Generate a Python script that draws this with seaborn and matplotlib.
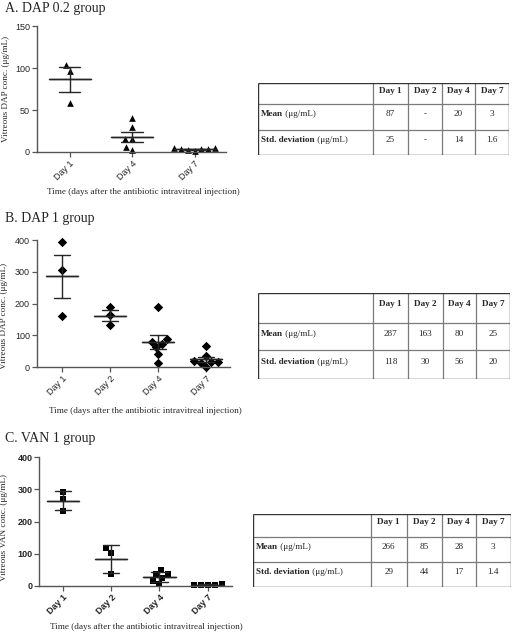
import numpy as np
import pandas as pd
import matplotlib
matplotlib.use("Agg")
import matplotlib.pyplot as plt
import seaborn as sns

sns.set_style("ticks")
plt.rcParams['font.family'] = ['Liberation Sans', 'DejaVu Sans']

# ---------------- data ----------------
x_label = "Time (days after the antibiotic intravitreal injection)"

a_title = "A. DAP 0.2 group"
a_ylabel = "Vitreous DAP conc. (μg/mL)"
a_days = ["Day 1", "Day 4", "Day 7"]
a_day1 = [104, 97, 58]
a_day4 = [41, 30, 16, 15, 6, 2]
a_day7 = [5, 4, 2, 1, 3, 3, 5]
a_yticks = [0, 50, 100, 150]

b_title = "B. DAP 1 group"
b_ylabel = "Vitreous DAP conc. (μg/mL)"
b_days = ["Day 1", "Day 2", "Day 4", "Day 7"]
b_day1 = [393, 306, 160]
b_day2 = [191, 164, 132]
b_day4 = [191, 89, 73, 81, 63, 43, 12]
b_day7 = [67, 36, 19, 15, 18, 17, 2]
b_yticks = [0, 100, 200, 300, 400]

c_title = "C. VAN 1 group"
c_ylabel = "Vitreous VAN conc. (μg/mL)"
c_days = ["Day 1", "Day 2", "Day 4", "Day 7"]
c_day1 = [291, 270, 233]
c_day2 = [116, 101, 35]
c_day4 = [50, 36, 35, 25, 14, 6]
c_day7 = [5, 3, 2, 1.5, 3.5]
c_yticks = [0, 100, 200, 300, 400]

table_cols = ["Day 1", "Day 2", "Day 4", "Day 7"]
table_rows = ["Mean", "Std. deviation"]
table_unit = "(μg/mL)"
a_mean = ["87", "-", "20", "3"]
a_sd = ["25", "-", "14", "1.6"]
b_mean = ["287", "163", "80", "25"]
b_sd = ["118", "30", "56", "20"]
c_mean = ["266", "85", "28", "3"]
c_sd = ["29", "44", "17", "1.4"]

W, H = 512, 632
fig = plt.figure(figsize=(W / 100, H / 100), dpi=100)
SERIF = ['Liberation Serif', 'DejaVu Serif']
LINE = '#262626'


def make_df(days, groups):
    rows = []
    for d, vals in zip(days, groups):
        for v in vals:
            rows.append({"day": d, "conc": v})
    return pd.DataFrame(rows)


def panel(rect_px, df, order, marker, err, xlim, ylim, yticks, bold,
          xlab_xy, ylab_xy, title, title_top, ylabel):
    x0, y0, x1, y1 = rect_px
    ax = fig.add_axes([x0 / W, 1 - y1 / H, (x1 - x0) / W, (y1 - y0) / H])
    sns.swarmplot(data=df, x="day", y="conc", order=order, marker=marker,
                  color="black", size=4.8, ax=ax, clip_on=False, zorder=2,
                  linewidth=0)
    # mean line (zero-length interval with wide caps)
    sns.pointplot(data=df, x="day", y="conc", order=order, estimator="mean",
                  errorbar=lambda v: (np.mean(v), np.mean(v)), capsize=0.67,
                  linestyle="none", marker="", color=LINE,
                  err_kws={"linewidth": 1.0}, ax=ax, zorder=3)
    # error bars
    sns.pointplot(data=df, x="day", y="conc", order=order, estimator="mean",
                  errorbar=err, capsize=0.34,
                  linestyle="none", marker="", color=LINE,
                  err_kws={"linewidth": 1.0}, ax=ax, zorder=3)
    ax.set_xlim(*xlim)
    ax.set_ylim(*ylim)
    ax.set_yticks(yticks)
    sns.despine(ax=ax)
    for s in ("left", "bottom"):
        ax.spines[s].set_color('#555555')
        ax.spines[s].set_linewidth(1.0)
    ax.tick_params(axis='both', length=3.5, width=0.9, color='#555555',
                   labelsize=6.5, pad=1.5)
    fw = 'bold' if bold else 'normal'
    ax.set_yticklabels([str(t) for t in yticks], fontweight=fw)
    ax.set_xticks(range(len(order)))
    ax.set_xticklabels(order, rotation=45, ha='right', rotation_mode='anchor',
                       fontweight=fw)
    ax.set_xlabel(x_label, family=SERIF, fontsize=6.6, va='center', ha='center')
    ax.xaxis.set_label_coords(*xlab_xy)
    ax.set_ylabel(ylabel, family=SERIF, fontsize=6.6, va='center', ha='center')
    ax.yaxis.set_label_coords(*ylab_xy)
    fig.text(5 / W, 1 - title_top / H, title, family=SERIF, fontsize=10,
             va='top', ha='left')
    return ax


def table(rect_px, row_fr, mean, sd):
    x0, y0, x1, y1 = rect_px
    ax = fig.add_axes([x0 / W, 1 - y1 / H, (x1 - x0) / W, (y1 - y0) / H])
    ax.set_xlim(0, 1)
    ax.set_ylim(1, 0)
    ax.axis('off')
    cols = [0, 0.457, 0.597, 0.733, 0.865, 1]
    ax.vlines(cols[1:-1], 0, 1, color='#7a7a7a', lw=0.9)
    ax.hlines(row_fr[1:-1], 0, 1, color='#7a7a7a', lw=0.9)
    ax.vlines([0, 1], 0, 1, color='#333333', lw=1.0)
    ax.hlines([0, 1], 0, 1, color='#333333', lw=1.0)
    cells = [table_cols, mean, sd]
    for r in range(3):
        hgt = row_fr[r + 1] - row_fr[r]
        if r == 0:
            ytxt = row_fr[r] + 0.36 * hgt
            va = 'center'
        else:
            ytxt = row_fr[r] + 0.47 * hgt
            va = 'baseline'
            t = ax.text(0.012, ytxt, table_rows[r - 1], family=SERIF,
                        fontsize=6.6, fontweight='bold', ha='left',
                        va='baseline')
            ax.annotate(" " + table_unit, xy=(1, 0), xycoords=t,
                        family=SERIF, fontsize=6.6, ha='left', va='bottom')
        for c in range(4):
            xc = (cols[c + 1] + cols[c + 2]) / 2
            ax.text(xc, ytxt, cells[r][c], family=SERIF, fontsize=6.6,
                    ha='center', va=va,
                    fontweight='bold' if r == 0 else 'normal')


df_a = make_df(a_days, [a_day1, a_day4, a_day7])
df_b = make_df(b_days, [b_day1, b_day2, b_day4, b_day7])
df_c = make_df(c_days, [c_day1, c_day2, c_day4, c_day7])

panel((37, 26, 226, 152), df_a, a_days, '^', 'se', (-0.52, 2.5), (0, 150),
      a_yticks, False, (0.561, -0.317), (-0.164, 0.5), a_title, 2, a_ylabel)
panel((37, 240, 230, 367.3), df_b, b_days, 'D', 'se', (-0.52, 3.5), (0, 400),
      b_yticks, False, (0.56, -0.341), (-0.171, 0.40), b_title, 212, b_ylabel)
panel((39.3, 457.3, 231.7, 585.7), df_c, c_days, 's', 'sd', (-0.49, 3.5), (0, 400),
      c_yticks, True, (0.557, -0.319), (-0.183, 0.45), c_title, 432, c_ylabel)

table((258, 83, 509, 155), [0, 0.292, 0.653, 1], a_mean, a_sd)
table((258, 293, 510, 379), [0, 0.349, 0.663, 1], b_mean, b_sd)
table((253, 514, 510.5, 587), [0, 0.315, 0.658, 1], c_mean, c_sd)

fig.savefig("out.png", dpi=100)
